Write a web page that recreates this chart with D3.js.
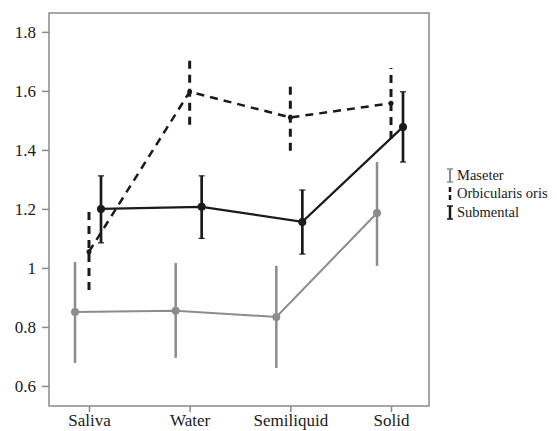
<!DOCTYPE html>
<html><head><meta charset="utf-8">
<script src="https://cdn.jsdelivr.net/npm/d3@7"></script>
<style>body{margin:0;background:#fff}svg{display:block}</style>
</head><body>
<script>
const categories = ["Saliva","Water","Semiliquid","Solid"];
const yTicks = [0.6,0.8,1,1.2,1.4,1.6,1.8];
const maseterMean = [0.851,0.855,0.834,1.186];
const maseterLow  = [0.678,0.695,0.661,1.007];
const maseterHigh = [1.020,1.017,1.007,1.359];
const orbMean = [1.055,1.597,1.51,1.558];
const orbLow  = [0.925,1.485,1.397,1.437];
const orbHigh = [1.19,1.715,1.62,1.678];
const subMean = [1.2,1.207,1.156,1.478];
const subLow  = [1.085,1.10,1.047,1.359];
const subHigh = [1.312,1.312,1.264,1.597];
const seriesNames = ["Maseter","Orbicularis oris","Submental"];

const W=557,H=431;
const m={l:49,t:13,r:429,b:406};
const svg=d3.select("body").append("svg").attr("width",W).attr("height",H);
const x=d3.scalePoint().domain(categories).range([89,391]);
const y=d3.scaleLinear().domain([0.532,1.864]).range([m.b,m.t]);
const frame="#8a8a8a";
const font='"Liberation Serif", "Times New Roman", serif';
svg.append("rect").attr("x",m.l).attr("y",m.t).attr("width",m.r-m.l).attr("height",m.b-m.t)
  .attr("fill","none").attr("stroke",frame).attr("stroke-width",1.5);
const yAx=svg.append("g").attr("transform",`translate(${m.l},0)`)
  .call(d3.axisLeft(y).tickValues(yTicks).tickFormat(d=>d3.format("")(d)).tickSize(7).tickPadding(6));
const xAx=svg.append("g").attr("transform",`translate(0,${m.b})`)
  .call(d3.axisBottom(x).tickSize(6).tickPadding(2));
[yAx,xAx].forEach(a=>{
  a.select(".domain").remove();
  a.selectAll("line").attr("stroke",frame).attr("stroke-width",1.5);
  a.selectAll("text").attr("fill","#1a1a1a").style("font-family",font).style("font-size","17px");});

const series=[
 {mean:maseterMean,low:maseterLow,high:maseterHigh,off:-14,color:"#8c8c8c",w:2,dash:null,r:4,cap:0},
 {mean:orbMean,low:orbLow,high:orbHigh,off:0,color:"#1a1a1a",w:2.5,dash:"8,6",r:2.5,cap:0},
 {mean:subMean,low:subLow,high:subHigh,off:12,color:"#1a1a1a",w:2.2,dash:null,r:4,cap:3}
];
series.forEach(s=>{
  const g=svg.append("g");
  const line=d3.line().x((d,i)=>x(categories[i])+s.off).y(d=>y(d));
  g.append("path").attr("d",line(s.mean)).attr("fill","none").attr("stroke",s.color)
    .attr("stroke-width",s.w).attr("stroke-dasharray",s.dash);
  categories.forEach((c,i)=>{
    const cx=x(c)+s.off;
    g.append("line").attr("x1",cx).attr("x2",cx).attr("y1",y(s.low[i])).attr("y2",y(s.high[i]))
      .attr("stroke",s.color).attr("stroke-width",s.w+0.5).attr("stroke-dasharray",s.dash);
    if(s.cap){[s.low[i],s.high[i]].forEach(v=>g.append("line").attr("x1",cx-s.cap).attr("x2",cx+s.cap)
      .attr("y1",y(v)).attr("y2",y(v)).attr("stroke",s.color).attr("stroke-width",1.2));}
    g.append("circle").attr("cx",cx).attr("cy",y(s.mean[i])).attr("r",s.r).attr("fill",s.color);
  });
});

// legend
const lg=svg.append("g");
const ly=[176,194,213];
seriesNames.forEach((n,i)=>{
  const s=series[i];
  const lx=450;
  const top=ly[i]-7, bot=ly[i]+6;
  if(i===1){
    lg.append("line").attr("x1",lx).attr("x2",lx).attr("y1",top).attr("y2",top+5).attr("stroke",s.color).attr("stroke-width",2.5);
    lg.append("line").attr("x1",lx).attr("x2",lx).attr("y1",top+8).attr("y2",bot).attr("stroke",s.color).attr("stroke-width",2.5);
  } else {
    lg.append("line").attr("x1",lx).attr("x2",lx).attr("y1",top).attr("y2",bot).attr("stroke",s.color).attr("stroke-width",i===2?2.5:2);
    [top,bot].forEach(v=>lg.append("line").attr("x1",lx-3).attr("x2",lx+3).attr("y1",v).attr("y2",v).attr("stroke",s.color).attr("stroke-width",1.5));
  }
  lg.append("text").attr("x",457).attr("y",ly[i]+4).text(n).attr("fill","#1a1a1a")
    .style("font-family",font).style("font-size","14.5px");
});
</script>
</body></html>
